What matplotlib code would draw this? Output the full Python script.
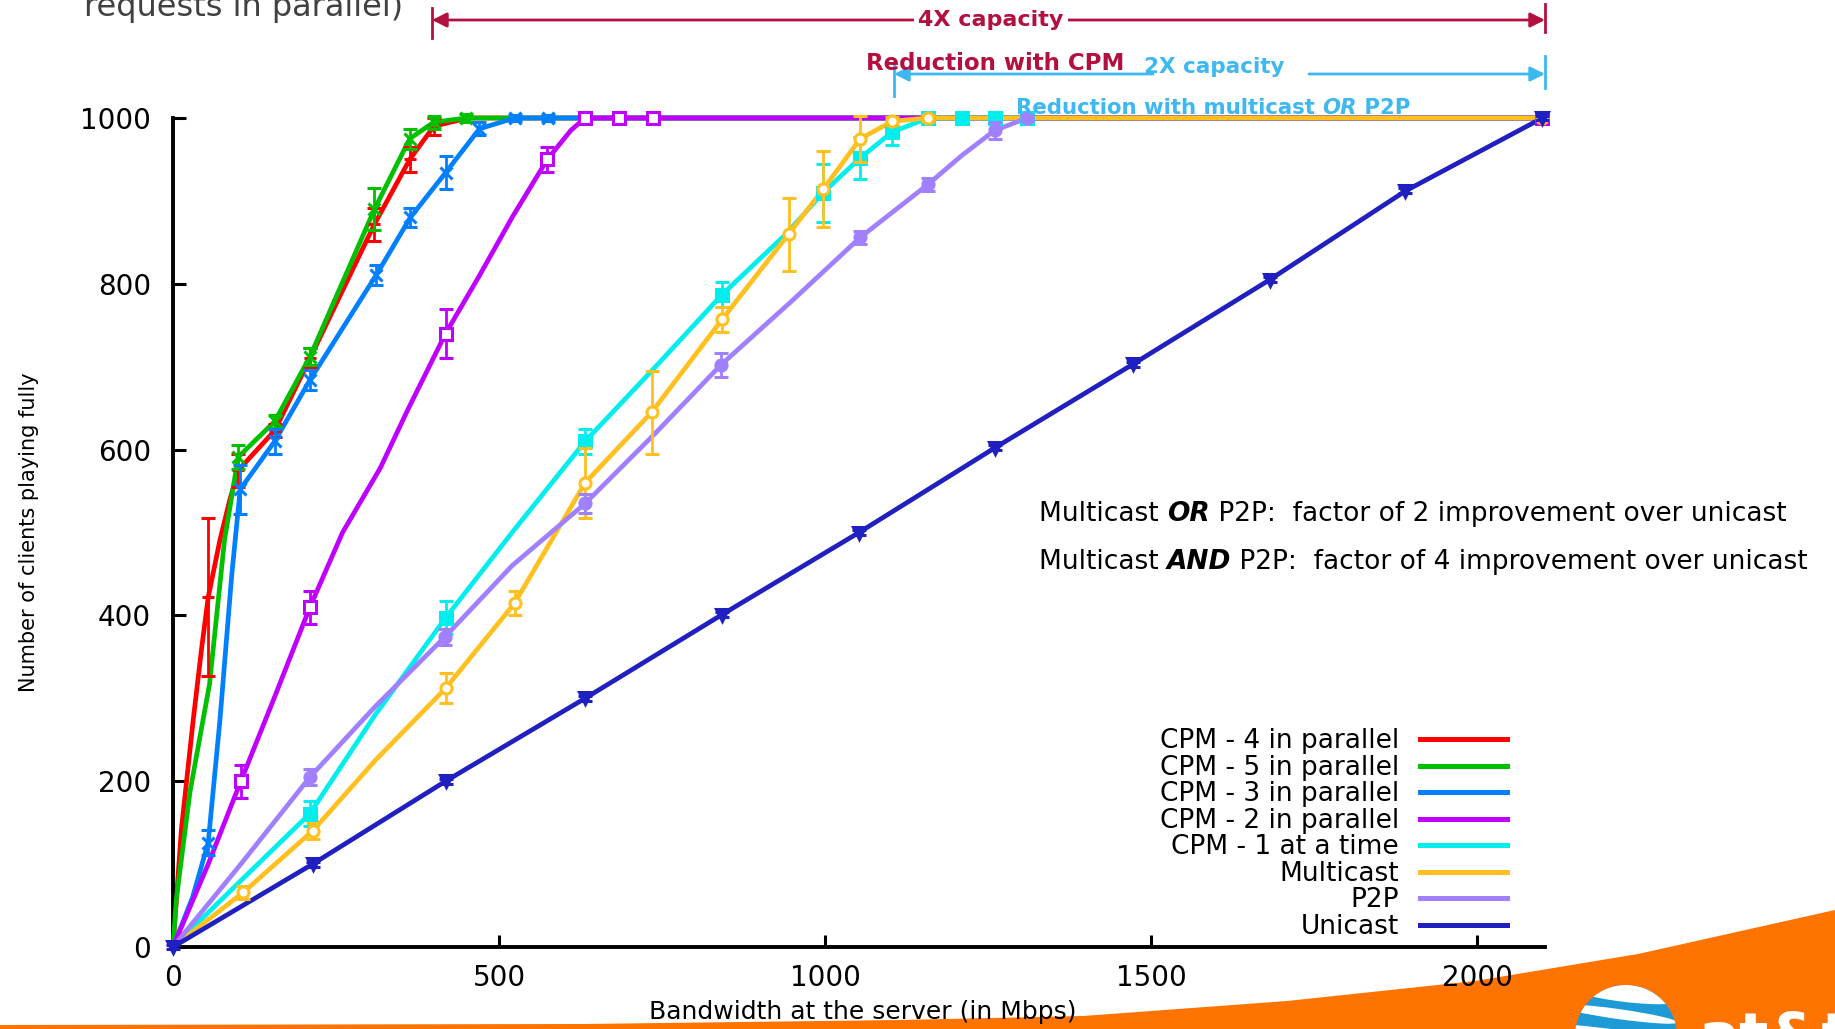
import numpy as np
import matplotlib.pyplot as plt
from matplotlib.patches import Polygon, Circle, Ellipse

plt.rcParams['font.family'] = ['DejaVu Sans']

nan = np.nan

# data (Mbps, clients); err = nan -> no marker at that point
cpm4_x = [0, 13, 31, 44, 54, 72, 87, 100, 156, 210, 309, 363, 400, 452, 2100]
cpm4_y = [0, 143, 274, 361, 422, 491, 539, 575, 623, 710, 872, 950, 990, 1000, 1000]
cpm4_err = [nan, nan, nan, nan, 95, nan, nan, 20, 8, 12, 20, 15, 10, nan, 3]

cpm5_x = [0, 5, 26, 56, 79, 100, 156, 210, 309, 363, 400, 450, 2100]
cpm5_y = [0, 57, 187, 317, 491, 591, 634, 712, 890, 975, 995, 1000, 1000]
cpm5_err = [nan, nan, nan, nan, nan, 15, 8, 10, 25, 12, 8, 5, 3]

cpm3_x = [0, 30, 54, 72, 90, 103, 156, 210, 312, 364, 418, 470, 524, 575, 632, 2100]
cpm3_y = [0, 60, 126, 274, 448, 552, 610, 684, 811, 880, 934, 987, 1000, 1000, 1000, 1000]
cpm3_err = [nan, nan, 15, nan, nan, 30, 15, 12, 12, 12, 20, 8, 4, 4, 4, 3]

cpm2_x = [0, 54, 104, 155, 210, 260, 318, 360, 418, 470, 520, 574, 610, 632, 684, 736, 2100]
cpm2_y = [0, 100, 200, 300, 410, 500, 578, 648, 740, 810, 880, 950, 985, 1000, 1000, 1000, 1000]
cpm2_err = [nan, nan, 20, nan, 20, nan, nan, nan, 30, nan, nan, 15, nan, 4, 4, 4, 3]

cpm1_x = [0, 104, 210, 310, 418, 520, 632, 740, 842, 940, 997, 1054, 1103, 1158, 1210, 1260, 1310]
cpm1_y = [0, 80, 161, 280, 397, 500, 610, 700, 787, 860, 910, 952, 983, 1000, 1000, 1000, 1000]
cpm1_err = [nan, nan, 15, nan, 20, nan, 15, nan, 15, nan, 35, 25, 15, 5, 4, 4, 4]

mcast_x = [0, 108, 214, 310, 418, 524, 632, 734, 842, 944, 997, 1054, 1103, 1158, 2100]
mcast_y = [0, 66, 140, 225, 312, 415, 560, 645, 757, 860, 914, 975, 996, 1000, 1000]
mcast_err = [nan, 8, 10, nan, 18, 15, 42, 50, 15, 44, 46, 28, 5, 4, 3]

p2p_x = [0, 104, 210, 310, 417, 520, 632, 740, 840, 950, 1054, 1158, 1210, 1260, 1310]
p2p_y = [0, 100, 205, 290, 374, 460, 535, 620, 702, 780, 856, 920, 955, 985, 1000]
p2p_err = [nan, nan, 10, nan, 10, nan, 12, nan, 15, nan, 8, 8, nan, 10, 4]

ucast_x = [0, 214, 418, 632, 842, 1052, 1260, 1472, 1682, 1890, 2100]
ucast_y = [0, 100, 200, 300, 401, 500, 602, 703, 805, 912, 1000]
ucast_err = [3, 3, 3, 3, 3, 3, 3, 3, 3, 3, 3]

labels = ['CPM - 4 in parallel', 'CPM - 5 in parallel', 'CPM - 3 in parallel',
          'CPM - 2 in parallel', 'CPM - 1 at a time', 'Multicast', 'P2P', 'Unicast']
colors = ['#FF0000', '#00C000', '#0080FF', '#C000FF', '#00EEEE', '#FFC020', '#A080FF', '#2020C0']
markers = ['+', 'x', 'x', 's', 's', 'o', 'o', 'v']
filled = [True, True, True, False, True, False, True, True]

xs = [cpm4_x, cpm5_x, cpm3_x, cpm2_x, cpm1_x, mcast_x, p2p_x, ucast_x]
ys = [cpm4_y, cpm5_y, cpm3_y, cpm2_y, cpm1_y, mcast_y, p2p_y, ucast_y]
errs = [cpm4_err, cpm5_err, cpm3_err, cpm2_err, cpm1_err, mcast_err, p2p_err, ucast_err]

W, H = 1835, 1029
fig = plt.figure(figsize=(W / 100, H / 100), dpi=100)

def fpx(x, y):
    # full-image pixel (from top-left) -> figure fraction
    return x / W, 1 - y / H

# orange swoosh at the bottom
swoosh = [(0, 1025), (585, 1024), (900, 1020), (1083, 1016), (1287, 1001), (1475, 981),
          (1638, 954), (1835, 910), (1835, 1029), (0, 1029)]
fig.patches.append(Polygon([fpx(x, y) for x, y in swoosh], closed=True, transform=fig.transFigure,
                           fc='#FF7300', ec='none', zorder=-5))

ax = fig.add_axes([173 / W, 82 / H, 1372 / W, 829 / H])
ax.patch.set_alpha(0)

for i in range(8):
    x = np.array(xs[i], float)
    y = np.array(ys[i], float)
    e = np.array(errs[i], float)
    ax.plot(x, y, color=colors[i], lw=3.4, label=labels[i], zorder=2 + i, clip_on=False)
    m = ~np.isnan(e)
    ax.errorbar(x[m], y[m], yerr=e[m], fmt=markers[i], color=colors[i], ms=8, mew=2.2,
                mfc=colors[i] if filled[i] else 'white', elinewidth=2, capsize=5, capthick=2,
                zorder=12 + i, clip_on=False)

ax.set_xlim(0, 2104)
ax.set_ylim(0, 1000)
ax.set_xticks([0, 500, 1000, 1500, 2000])
ax.set_yticks([0, 200, 400, 600, 800, 1000])
for s in ['top', 'right']:
    ax.spines[s].set_visible(False)
for s in ['left', 'bottom']:
    ax.spines[s].set_linewidth(2.8)
ax.tick_params(direction='in', length=9, width=2.2, labelsize=20, color='black')
ax.tick_params(axis='x', pad=12)
ax.tick_params(axis='y', pad=16)

ax.set_xlabel('Bandwidth at the server (in Mbps)', fontsize=18)
ax.xaxis.set_label_coords(0.503, -0.064)
ax.set_ylabel('Number of clients playing fully', fontsize=15)
ax.yaxis.set_label_coords(-0.098, 0.5)

leg = ax.legend(loc='lower right', bbox_to_anchor=fpx(1507, 940), bbox_transform=fig.transFigure,
                frameon=False, markerfirst=False, fontsize=19, handlelength=3.3,
                handletextpad=0.8, labelspacing=0.02, borderpad=0, borderaxespad=0)
for ln in leg.get_lines():
    ln.set_linewidth(3.6)

# header text cut off at the top
fig.text(*fpx(84, 16), 'requests in parallel)', fontsize=23, color='#404040', va='baseline')

crimson = '#B3103F'
sky = '#3DB8F0'

def bar(x, y0, y1, c):
    fig.add_artist(plt.Line2D([x / W, x / W], [1 - y0 / H, 1 - y1 / H], color=c, lw=2,
                              transform=fig.transFigure))

# 4X capacity arrow
ax.annotate('', xy=fpx(432, 20), xytext=fpx(1545, 20), xycoords='figure fraction',
            textcoords='figure fraction',
            arrowprops=dict(arrowstyle='<|-|>', color=crimson, lw=2, mutation_scale=22,
                            shrinkA=0, shrinkB=0))
bar(432, 8, 38, crimson)
bar(1545, 4, 32, crimson)
fig.text(*fpx(991, 20), '4X capacity', fontsize=16, fontweight='bold', color=crimson,
         ha='center', va='center', bbox=dict(fc='white', ec='none', pad=3))
fig.text(*fpx(995, 63), 'Reduction with CPM', fontsize=16.5, fontweight='bold', color=crimson,
         ha='center', va='center')

# 2X capacity arrow
ax.annotate('', xy=fpx(894, 74), xytext=fpx(1153, 74), xycoords='figure fraction',
            textcoords='figure fraction',
            arrowprops=dict(arrowstyle='-|>', color=sky, lw=2, mutation_scale=22,
                            shrinkA=0, shrinkB=0))
ax.annotate('', xy=fpx(1545, 74), xytext=fpx(1309, 74), xycoords='figure fraction',
            textcoords='figure fraction',
            arrowprops=dict(arrowstyle='-|>', color=sky, lw=2, mutation_scale=22,
                            shrinkA=0, shrinkB=0))
bar(894, 64, 96, sky)
bar(1545, 56, 88, sky)
fig.text(*fpx(1214, 67), '2X capacity', fontsize=15.5, fontweight='bold', color=sky,
         ha='center', va='center')


def run_text(x, y, parts, size, color):
    t = fig.text(*fpx(x, y), parts[0][0], fontsize=size, color=color, va='bottom', **parts[0][1])
    for s, st in parts[1:]:
        t = ax.annotate(s, xy=(1, 0), xycoords=t, va='bottom', ha='left', fontsize=size,
                        color=color, annotation_clip=False, **st)


run_text(1016, 118, [('Reduction with multicast ', dict(fontweight='bold')),
                     ('OR', dict(fontweight='bold', fontstyle='italic')),
                     (' P2P', dict(fontweight='bold'))], 15.3, sky)

run_text(1039, 527, [('Multicast ', {}), ('OR', dict(fontweight='bold', fontstyle='italic')),
                     (' P2P:  factor of 2 improvement over unicast', {})], 19, 'black')
run_text(1039, 575, [('Multicast ', {}), ('AND', dict(fontweight='bold', fontstyle='italic')),
                     (' P2P:  factor of 4 improvement over unicast', {})], 19, 'black')

# AT&T globe and wordmark
gax = fig.add_axes([(1626 - 60) / W, (H - 1036 - 60) / H, 120 / W, 120 / H])
gax.set_xlim(-60, 60)
gax.set_ylim(-60, 60)
gax.axis('off')
globe = Circle((0, 0), 51, fc='#1E9AD6', ec='none')
gax.add_patch(globe)
for cy, h in [(44, 18), (22, 10), (2, 8), (-18, 7)]:
    band = Ellipse((-8, cy), 120, h, angle=-8, fc='white', ec='none')
    band.set_clip_path(globe)
    gax.add_patch(band)
fig.text(*fpx(1698, 1056), 'at&t', fontsize=44, fontweight='bold', color='white', va='baseline')

fig.savefig('out.png', dpi=100)
